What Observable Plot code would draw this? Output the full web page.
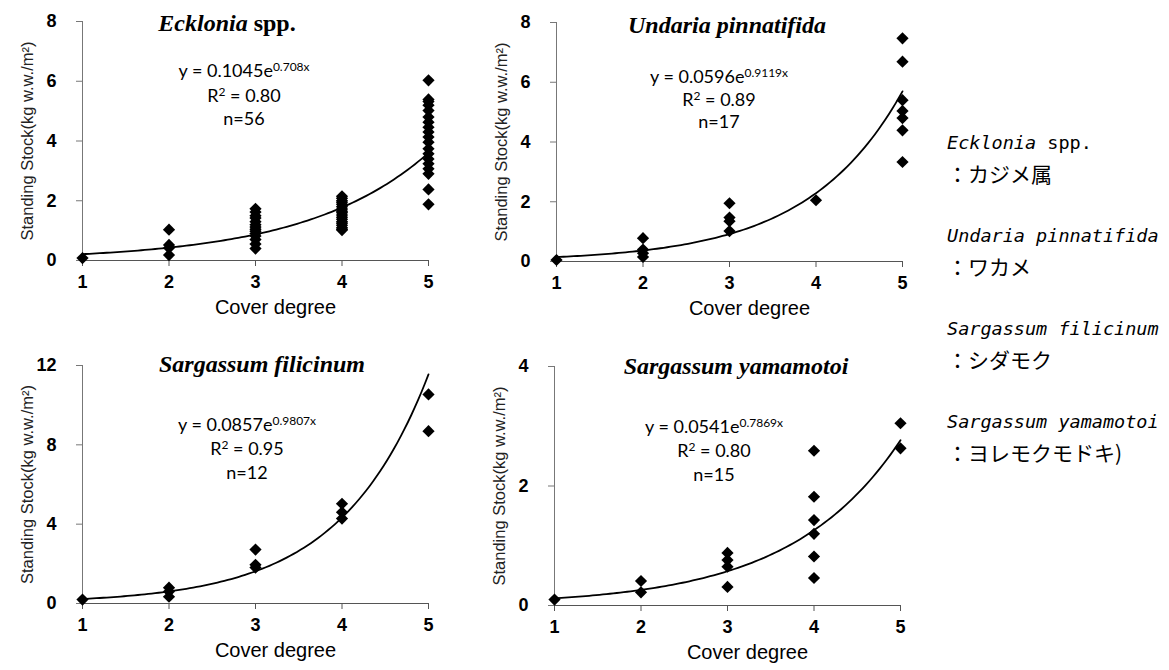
<!DOCTYPE html>
<html>
<head>
<meta charset="utf-8">
<script src="https://cdn.jsdelivr.net/npm/d3@7"></script>
<script src="https://cdn.jsdelivr.net/npm/@observablehq/plot@0.6"></script>
<style>
  html, body { margin: 0; padding: 0; background: #fff; }
  #root { position: relative; width: 1169px; height: 670px; overflow: hidden; background: #fff; }
  .panel { position: absolute; }
  .panel svg { overflow: visible; }
  .ann { position: absolute; white-space: nowrap; transform: translate(-50%, -50%); color: #000; }
  .title { font-family: "Liberation Serif", "Times New Roman", serif; font-weight: bold; font-size: 24px; }
  .title i { font-style: italic; }
  .eq { font-family: Lato, "Open Sans", sans-serif; font-size: 18px; }
  .eq sup { font-size: 12px; vertical-align: 0; position: relative; top: -0.5em; }
  .legend { position: absolute; left: 947px; top: 127px; line-height: 31px; color: #000; }
  .legend .lat { font-family: "DejaVu Sans Mono", "Liberation Mono", monospace; font-size: 18.5px; }
  .legend .lat i { font-style: italic; }
  .legend .jp { font-family: "Noto Sans CJK JP", sans-serif; font-size: 21px; }
</style>
</head>
<body>
<div id="root"></div>
<script>
// ---- data ----
const speciesItalic = ["Ecklonia", "Undaria pinnatifida", "Sargassum filicinum", "Sargassum yamamotoi"];
const speciesSuffix = [" spp.", "", "", ""];
const speciesJapanese = ["：カジメ属", "：ワカメ", "：シダモク", "：ヨレモクモドキ)"];

const eckloniaCover = [1, 2,2,2,2,
  3,3,3,3,3,3,3,3,3,3,3,3,3,3,
  4,4,4,4,4,4,4,4,4,4,4,4,4,4,4,4,4,4,
  5,5,5,5,5,5,5,5,5,5,5,5,5,5,5,5,5,5,5];
const eckloniaStock = [0.08, 1.03,0.52,0.42,0.18,
  1.73,1.62,1.50,1.42,1.30,1.20,1.12,1.05,0.98,0.90,0.82,0.70,0.55,0.40,
  2.15,2.08,2.00,1.95,1.88,1.80,1.72,1.65,1.60,1.52,1.45,1.38,1.30,1.25,1.18,1.10,1.05,1.02,
  6.03,5.39,5.32,5.20,5.02,4.80,4.63,4.46,4.30,4.13,3.96,3.74,3.57,3.40,3.24,3.07,2.90,2.38,1.88];

const undariaCover = [1, 2,2,2,2, 3,3,3,3, 4, 5,5,5,5,5,5,5];
const undariaStock = [0.05, 0.78,0.40,0.28,0.15, 1.95,1.47,1.35,1.02, 2.05, 7.47,6.69,5.40,5.04,4.80,4.39,3.33];

const filicinumCover = [1, 2,2,2, 3,3,3, 4,4,4, 5,5];
const filicinumStock = [0.20, 0.80,0.60,0.34, 2.72,1.95,1.81, 5.03,4.60,4.28, 10.54,8.69];

const yamamotoiCover = [1, 2,2, 3,3,3,3, 4,4,4,4,4,4, 5,5];
const yamamotoiStock = [0.10, 0.41,0.22, 0.88,0.76,0.65,0.31, 2.59,1.82,1.43,1.20,0.82,0.46, 3.05,2.63];

// fitted curves y = a·e^(b·x), as printed on each panel
const coefA = [0.1045, 0.0596, 0.0857, 0.0541];
const coefB = [0.708, 0.9119, 0.9807, 0.7869];
const coefAText = ["0.1045", "0.0596", "0.0857", "0.0541"];
const coefBText = ["0.708", "0.9119", "0.9807", "0.7869"];
const r2Text = ["0.80", "0.89", "0.95", "0.80"];
const nText = ["56", "17", "12", "15"];

const xTicks = [1, 2, 3, 4, 5];
const yTicksList = [[0, 2, 4, 6, 8], [0, 2, 4, 6, 8], [0, 4, 8, 12], [0, 2, 4]];
const xLabel = "Cover degree";
const yLabel = "Standing Stock(kg w.w./m²)";

// ---- layout ----
const layout = [
  {left: 0,   top: 0,   height: 330, mt: 21, mb: 70, xlabDy: 53, title: [227, 23], eqX: 244, eqY: [70, 95, 118]},
  {left: 474, top: 0,   height: 330, mt: 22, mb: 69, xlabDy: 53, title: [727, 25], eqX: 719, eqY: [76, 99, 121]},
  {left: 0,   top: 330, height: 340, mt: 35, mb: 67, xlabDy: 53, title: [262, 364], eqX: 247, eqY: [424, 448, 472]},
  {left: 472, top: 330, height: 340, mt: 36, mb: 65, xlabDy: 53, title: [736, 366], eqX: 714, eqY: [426, 450, 474]}
];
const covers = [eckloniaCover, undariaCover, filicinumCover, yamamotoiCover];
const stocks = [eckloniaStock, undariaStock, filicinumStock, yamamotoiStock];

const root = document.getElementById("root");
const tickFont = '"Liberation Sans Narrow", "Arial Narrow", "Liberation Sans", sans-serif';
const intFmt = d3.format("d");

for (let i = 0; i < 4; i++) {
  const L = layout[i];
  const pts = covers[i].map((c, k) => ({x: c, y: stocks[i][k]}));
  const xs = d3.range(xTicks[0], xTicks[xTicks.length - 1] + 1e-9, 0.04);
  const curve = xs.map(x => ({x, y: coefA[i] * Math.exp(coefB[i] * x)}));
  const yTicks = yTicksList[i];
  const chart = Plot.plot({
    width: 460,
    height: L.height,
    marginLeft: 82,
    marginRight: 32,
    marginTop: L.mt,
    marginBottom: L.mb,
    style: {background: "transparent", color: "#000"},
    x: {domain: [xTicks[0], xTicks[xTicks.length - 1]]},
    y: {domain: [yTicks[0], yTicks[yTicks.length - 1]]},
    marks: [
      Plot.ruleY([yTicks[0]], {stroke: "#555", strokeWidth: 1.2}),
      Plot.ruleX([xTicks[0]], {stroke: "#777", strokeWidth: 1}),
      Plot.axisX({ticks: xTicks, tickFormat: intFmt, tickSize: 6, tickPadding: 9, label: null, stroke: "#555",
        fontSize: 18, fontWeight: "bold", fontFamily: tickFont, fill: "#000"}),
      Plot.axisY({ticks: yTicks, tickFormat: intFmt, tickSize: 6, tickPadding: 20, label: null, stroke: "#777",
        fontSize: 18, fontWeight: "bold", fontFamily: tickFont, fill: "#000"}),
      Plot.line(curve, {x: "x", y: "y", stroke: "#000", strokeWidth: 1.8}),
      Plot.dot(pts, {x: "x", y: "y", symbol: "diamond2", r: 5.5, fill: "#000", stroke: null}),
      Plot.text([xLabel], {text: d => d, frameAnchor: "bottom", dy: L.xlabDy, dx: 20,
        fontSize: 20, fontFamily: '"Liberation Sans", Arial, sans-serif', fill: "#000"}),
      Plot.text([yLabel], {text: d => d, frameAnchor: "left", textAnchor: "middle", dx: -55, rotate: -90,
        fontSize: 16.5, fontFamily: '"Liberation Sans", Arial, sans-serif', fill: "#222"})
    ]
  });
  const wrap = document.createElement("div");
  wrap.className = "panel";
  wrap.style.left = L.left + "px";
  wrap.style.top = L.top + "px";
  wrap.appendChild(chart);
  root.appendChild(wrap);

  const t = document.createElement("div");
  t.className = "ann title";
  t.style.left = L.title[0] + "px";
  t.style.top = L.title[1] + "px";
  t.innerHTML = "<i>" + speciesItalic[i] + "</i>" + speciesSuffix[i];
  root.appendChild(t);

  const lines = [
    "y = " + coefAText[i] + "e<sup>" + coefBText[i] + "x</sup>",
    "R<sup>2</sup> = " + r2Text[i],
    "n=" + nText[i]
  ];
  lines.forEach((h, k) => {
    const e = document.createElement("div");
    e.className = "ann eq";
    e.style.left = L.eqX + "px";
    e.style.top = L.eqY[k] + "px";
    e.innerHTML = h;
    root.appendChild(e);
  });
}

// legend on the right
const lg = document.createElement("div");
lg.className = "legend";
let html = "";
for (let i = 0; i < 4; i++) {
  html += '<div class="lat"><i>' + speciesItalic[i] + '</i>' + speciesSuffix[i] + '</div>';
  html += '<div class="jp">' + speciesJapanese[i] + '</div>';
  if (i < 3) html += '<div class="lat">&nbsp;</div>';
}
lg.innerHTML = html;
root.appendChild(lg);
</script>
</body>
</html>
